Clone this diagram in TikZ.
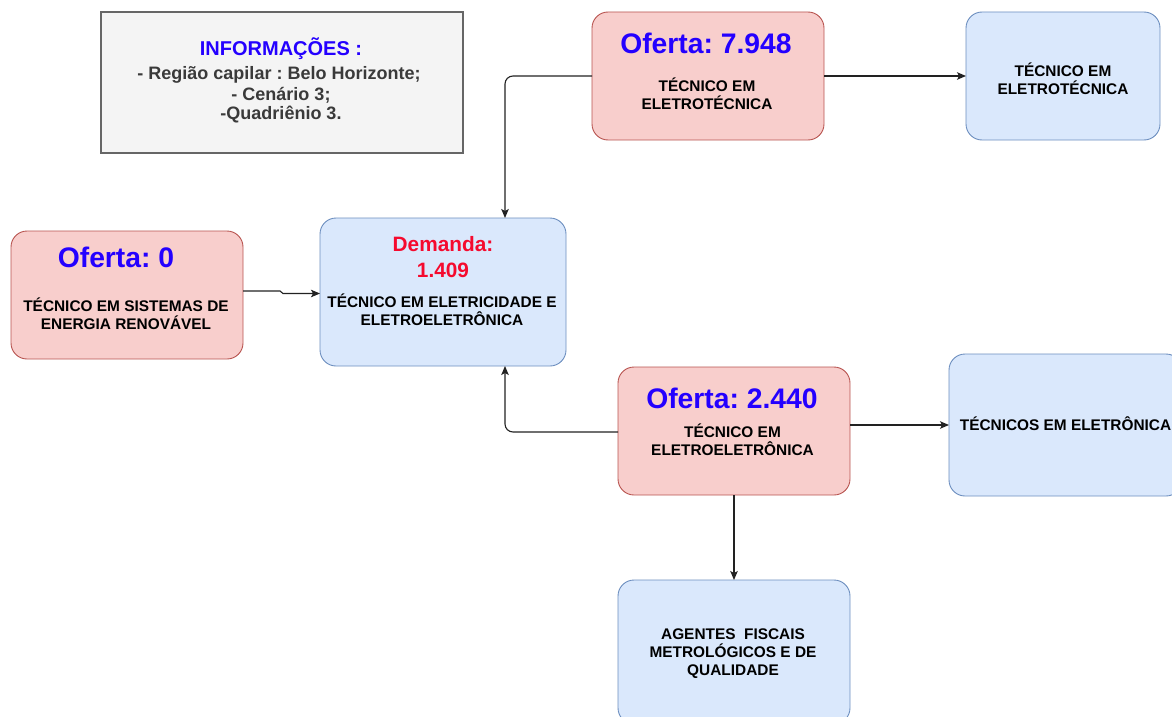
\documentclass[tikz,border=0pt]{standalone}
\usepackage{fontspec}
\setmainfont{Liberation Sans}
\usetikzlibrary{arrows.meta}

\definecolor{redfill}{HTML}{F8CECC}
\definecolor{redline}{HTML}{B85450}
\definecolor{bluefill}{HTML}{DAE8FC}
\definecolor{blueline}{HTML}{6C8EBF}
\definecolor{infofill}{HTML}{F4F4F4}
\definecolor{infoline}{HTML}{666666}
\definecolor{offerblue}{HTML}{2400FF}
\definecolor{demandred}{HTML}{F50A2E}
\definecolor{infotext}{HTML}{3A3A3A}
\definecolor{linkgray}{HTML}{222222}

\begin{document}
\frenchspacing
\begin{tikzpicture}[x=1pt,y=-1pt,
  card/.style={line width=0.9pt, rounded corners=16pt, inner sep=0pt, outer sep=0pt},
  offerbox/.style={card, fill=redfill, draw=redline},
  jobbox/.style={card, fill=bluefill, draw=blueline},
  infobox/.style={fill=infofill, draw=infoline, line width=1.2pt, inner sep=0pt, outer sep=0pt},
  txt/.style={anchor=base, inner sep=0pt, font=\bfseries\fontsize{15.4}{17}\selectfont, text=black},
  offer/.style={anchor=base, inner sep=0pt, font=\bfseries\fontsize{28.3}{30}\selectfont, text=offerblue},
  demand/.style={anchor=base, inner sep=0pt, font=\bfseries\fontsize{20.8}{24}\selectfont, text=demandred},
  infohead/.style={anchor=base, inner sep=0pt, font=\bfseries\fontsize{20}{22}\selectfont, text=offerblue},
  infoline/.style={anchor=base, inner sep=0pt, font=\bfseries\fontsize{18}{20}\selectfont, text=infotext},
  link/.style={draw=linkgray, line width=1.1pt, rounded corners=8pt,
    -{Stealth[length=9pt, width=7.5pt, inset=2pt]}}
]
\useasboundingbox (0,0) rectangle (1172,717);
\clip (0,0) rectangle (1172,717);

% boxes
\node[infobox, minimum width=362pt, minimum height=141pt] (info) at (282,82.5) {};
\node[offerbox, minimum width=232pt, minimum height=128pt] (r1) at (708,76) {};
\node[jobbox, minimum width=194pt, minimum height=128pt] (b1) at (1063,76) {};
\node[offerbox, minimum width=232pt, minimum height=128pt] (r0) at (127,295) {};
\node[jobbox, minimum width=246pt, minimum height=148pt] (c) at (443,292) {};
\node[offerbox, minimum width=232pt, minimum height=128pt] (r2) at (734,431) {};
\node[jobbox, minimum width=233pt, minimum height=142pt] (b2) at (1065.5,425) {};
\node[jobbox, minimum width=232pt, minimum height=144pt] (b3) at (734,652) {};

% information panel
\node[infohead] (infoT) at (281,56) {INFORMAÇÕES :};
\node[infoline] (info1) at (279,80) {- Região capilar : Belo Horizonte;};
\node[infoline] (info2) at (281,100) {- Cenário 3;};
\node[infoline] (info3) at (281,119) {-Quadriênio 3.};

% offer in electrotechnics
\node[offer] (r1o) at (706,53) {Oferta: 7.948};
\node[txt] (r1a) at (707,92) {TÉCNICO EM};
\node[txt] (r1b) at (707,109) {ELETROTÉCNICA};

\node[txt] (b1a) at (1063,77) {TÉCNICO EM};
\node[txt] (b1b) at (1063,94) {ELETROTÉCNICA};

% renewable energy offer
\node[offer] (r0o) at (116,267) {Oferta: 0};
\node[txt] (r0a) at (126,311) {TÉCNICO EM SISTEMAS DE};
\node[txt] (r0b) at (126,329) {ENERGIA RENOVÁVEL};

% demand box
\node[demand] (cd1) at (443,251) {Demanda:};
\node[demand] (cd2) at (443,277) {1.409};
\node[txt] (ca) at (442,307) {TÉCNICO EM ELETRICIDADE E};
\node[txt] (cb) at (442,325) {ELETROELETRÔNICA};

% electro-electronics offer
\node[offer] (r2o) at (732,408) {Oferta: 2.440};
\node[txt] (r2a) at (732.5,437) {TÉCNICO EM};
\node[txt] (r2b) at (732.5,455) {ELETROELETRÔNICA};

\node[txt] (b2a) at (1065.5,430) {TÉCNICOS EM ELETRÔNICA};

\node[txt] (b3a) at (733,639) {AGENTES\ \ FISCAIS};
\node[txt] (b3b) at (733,657) {METROLÓGICOS E DE};
\node[txt] (b3c) at (733,675) {QUALIDADE};

% connectors
\draw[link] (r1.west) -| ([xshift=62pt]c.north);
\draw[link] (r1.east) -- (b1.west);
\draw[link, rounded corners=0pt] ([yshift=4pt]r0.east) -- ([xshift=-40pt,yshift=1pt]c.west)
  -- ([xshift=-37pt,yshift=-1.5pt]c.west) -- ([yshift=-1.5pt]c.west);
\draw[link] ([yshift=-1pt]r2.west) -| ([xshift=62pt]c.south);
\draw[link] ([yshift=6pt]r2.east) -- (b2.west);
\draw[link] (r2.south) -- (b3.north);
\end{tikzpicture}
\end{document}
